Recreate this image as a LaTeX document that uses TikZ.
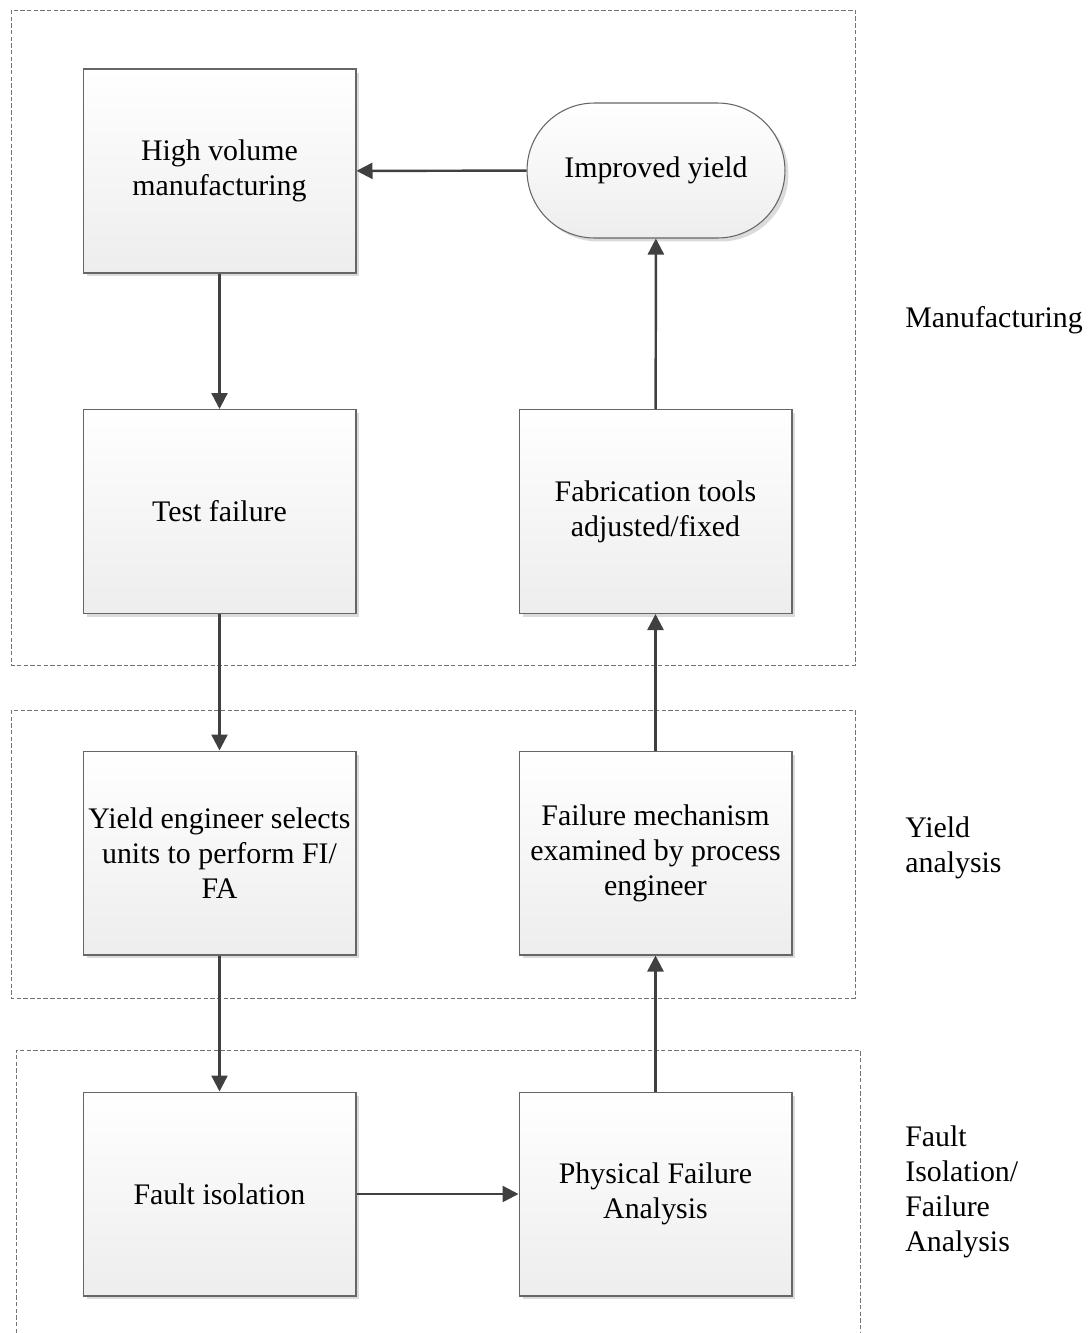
\documentclass[tikz,border=0pt]{standalone}
\usepackage{fontspec}
\setmainfont{Liberation Serif}
\usetikzlibrary{arrows.meta,positioning,shadows}

\begin{document}
\begin{tikzpicture}[
  x=0.02cm, y=-0.02cm,
  font=\fontsize{17}{20}\selectfont, >={Triangle[length=0.32cm, width=0.32cm]},
  blk/.style={draw=black!60, line width=0.6pt, top color=white, bottom color=black!7,
    minimum width=5.46cm, minimum height=4.08cm, align=center, inner sep=0pt,
    drop shadow={fill=black!14, opacity=1, shadow xshift=0.07cm, shadow yshift=-0.07cm}},
  term/.style={blk, rounded corners=1.35cm, minimum width=5.16cm, minimum height=2.7cm},
  grp/.style={draw=black!55, line width=0.5pt, dash pattern=on 2.5pt off 1.3pt},
  lbl/.style={anchor=west, align=left, inner sep=0pt},
  flow/.style={->, draw=black!75, line width=1.4pt}]
  \useasboundingbox (0,0) rectangle (1088,1333);
  % groups
  \draw[grp] (11,10) rectangle (855,665);
  \draw[grp] (11,710) rectangle (855,998);
  \draw[grp] (16,1333) -- (16,1050) -- (860,1050) -- (860,1333);
  % left column
  \node[blk] (hvm) at (219.5,171)  {High volume\\manufacturing};
  \node[blk] (tf)  at (219.5,511.5) {Test failure};
  \node[blk] (ye)  at (219.5,853)  {Yield engineer selects\\units to perform FI/\\FA};
  \node[blk] (fi)  at (219.5,1194) {Fault isolation};
  % right column
  \node[term] (iy)  at (656,170.5)  {Improved yield};
  \node[blk]  (fab) at (655.5,511.5) {Fabrication tools\\adjusted/fixed};
  \node[blk]  (fm)  at (655.5,853)  {Failure mechanism\\examined by process\\engineer};
  \node[blk]  (pfa) at (655.5,1194) {Physical Failure\\Analysis};
  % side labels
  \node[lbl] (lm) at (905,320)  {Manufacturing};
  \node[lbl] (ly) at (905,848)  {Yield\\analysis};
  \node[lbl] (lf) at (905,1192) {Fault\\Isolation/\\Failure\\Analysis};
  % flow
  \draw[flow] (hvm) -- (tf);
  \draw[flow] (tf) -- (ye);
  \draw[flow] (ye) -- (fi);
  \draw[flow] (fi) -- (pfa);
  \draw[flow] (pfa) -- (fm);
  \draw[flow] (fm) -- (fab);
  \draw[flow] (fab) -- (iy);
  \draw[flow] (iy) -- (hvm);
\end{tikzpicture}
\end{document}
